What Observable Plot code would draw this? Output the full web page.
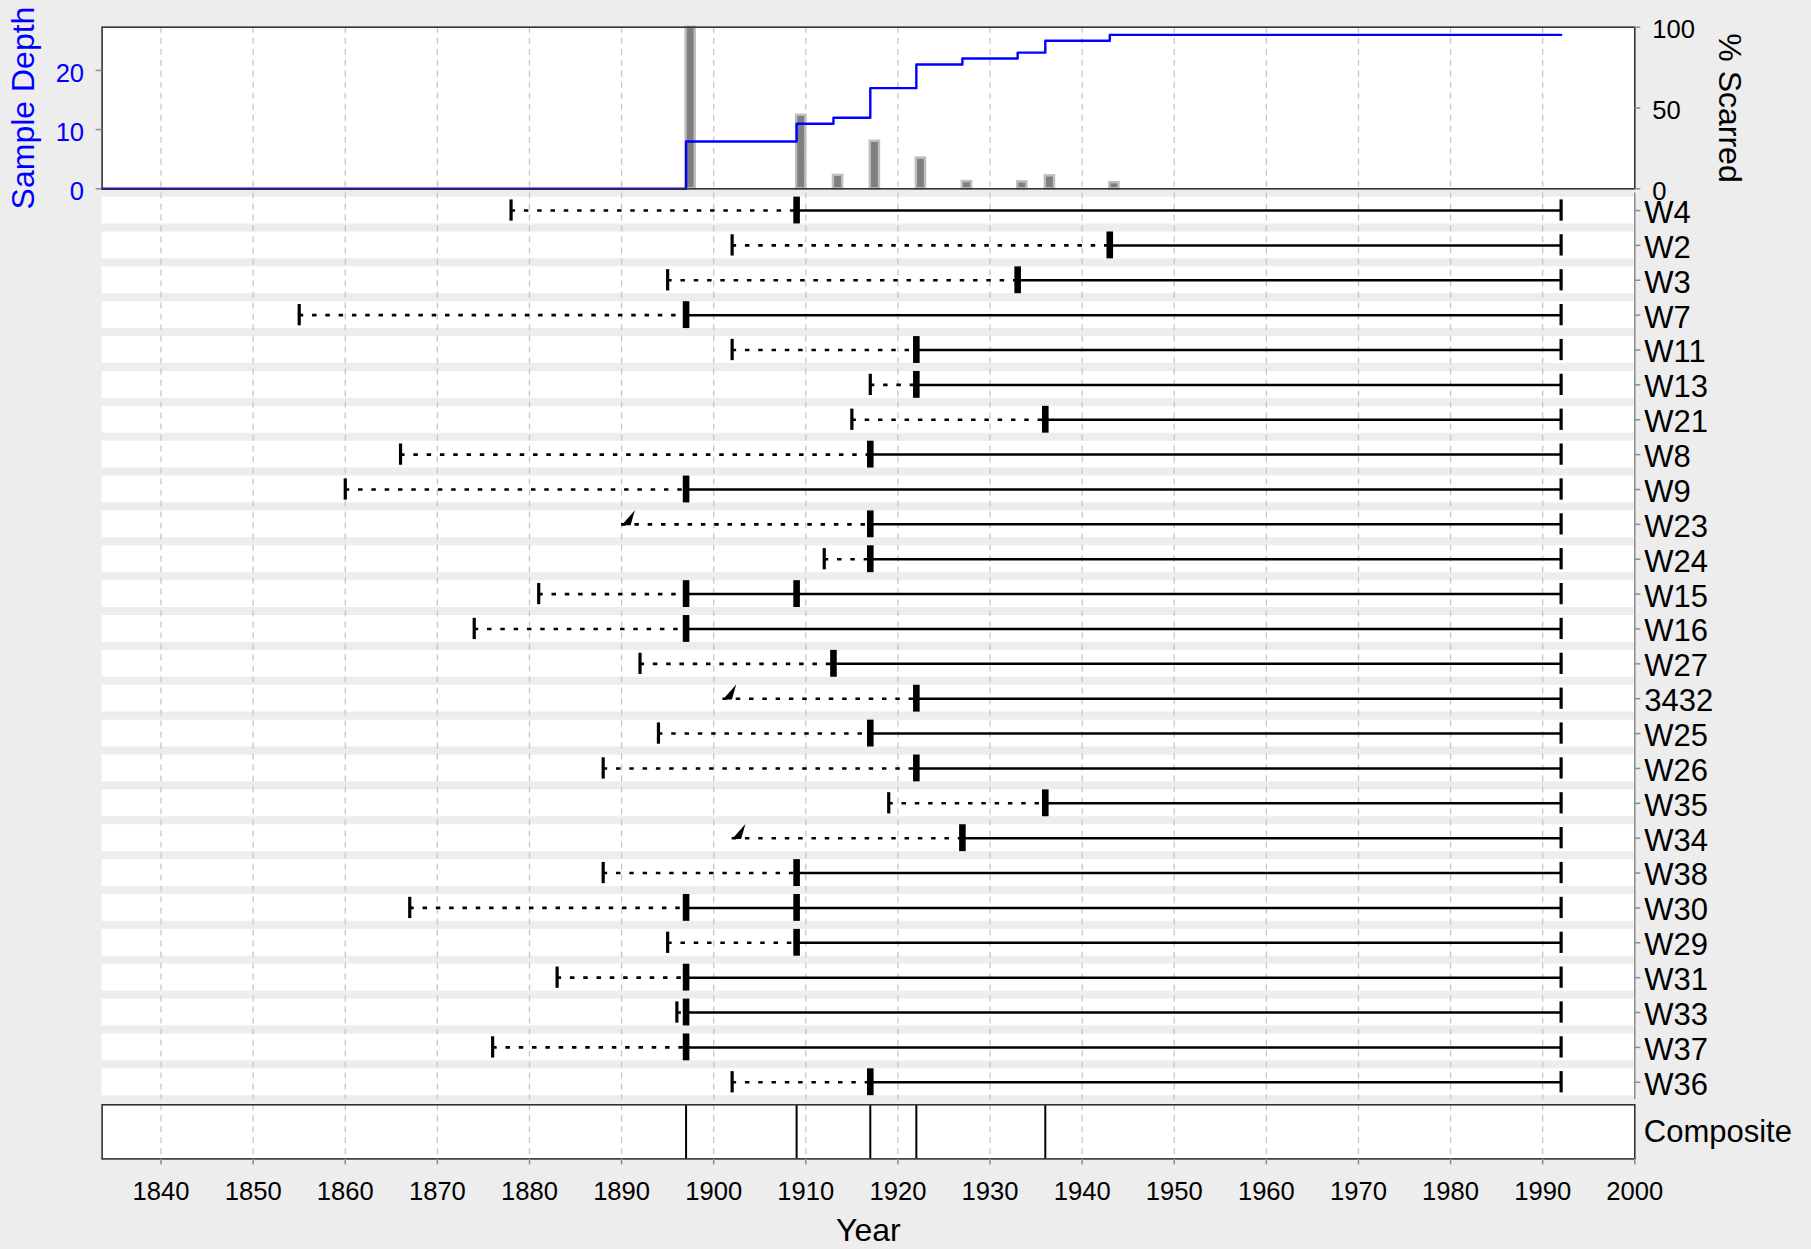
<!DOCTYPE html>
<html>
<head>
<meta charset="utf-8">
<script src="https://cdn.jsdelivr.net/npm/d3@7"></script>
<script src="https://cdn.jsdelivr.net/npm/@observablehq/plot@0.6"></script>
<style>
html, body { margin: 0; padding: 0; background: #ededed; }
#wrap { position: relative; width: 1811px; height: 1249px; overflow: hidden; background: #ededed;
        font-family: "Liberation Sans", Arial, Helvetica, sans-serif; }
</style>
</head>
<body>
<div id="wrap"></div>
<script>
// ---------------- data ----------------
const seriesNames = ["W4","W2","W3","W7","W11","W13","W21","W8","W9","W23","W24","W15","W16","W27","3432","W25","W26","W35","W34","W38","W30","W29","W31","W33","W37","W36"];
const innerYears  = [1878,1902,1895,1855,1902,1917,1915,1866,1860,1890,1912,1881,1874,1892,1901,1894,1888,1919,1902,1888,1867,1895,1883,1896,1876,1902];
const outerYears  = [1992,1992,1992,1992,1992,1992,1992,1992,1992,1992,1992,1992,1992,1992,1992,1992,1992,1992,1992,1992,1992,1992,1992,1992,1992,1992];
const wedgeSeries = ["W23","3432","W34"];
const scarYears   = [[1909],[1943],[1933],[1897],[1922],[1922],[1936],[1917],[1897],[1917],[1917],[1897,1909],[1897],[1913],[1922],[1917],[1922],[1936],[1927],[1909],[1897,1909],[1909],[1897],[1897],[1897],[1917]];

const depthYears  = [1833.6,1897,1909,1913,1917,1922,1927,1933,1936,1943,1992];
const depthValues = [0,8,11,12,17,21,22,23,25,26,26];

const pctYears    = [1897,1909,1913,1917,1922,1927,1933,1936,1943];
const pctValues   = [100,45.5,8.3,29.4,19.0,4.5,4.3,8.0,3.8];

const compositeYears = [1897,1909,1917,1922,1936];

const gridYears  = [1840,1850,1860,1870,1880,1890,1900,1910,1920,1930,1940,1950,1960,1970,1980,1990];
const tickYears  = [1840,1850,1860,1870,1880,1890,1900,1910,1920,1930,1940,1950,1960,1970,1980,1990,2000];
const depthTicks = [0,10,20];
const pctTicks   = [0,50,100];

// ---------------- layout ----------------
const W = 1811;
const xDomain = [1833.6, 2000];
const mL = 101.6, mR = W - 1634.3;
const pxPerYear = (W - mR - mL) / (xDomain[1] - xDomain[0]);
const tickLen = 6 / pxPerYear;
const depthMax = 27.3;
const FONT = "'Liberation Sans', Arial, Helvetica, sans-serif";
const gridStyle = {stroke: "#c6c6c6", strokeWidth: 1.3, strokeDasharray: "6,5"};
const tickGray = "#8c8c8c";

const wrap = document.getElementById("wrap");
function place(svg, top) {
  svg.style.position = "absolute";
  svg.style.left = "0px";
  svg.style.top = top + "px";
  svg.style.background = "transparent";
  svg.style.overflow = "visible";
  svg.style.fontFamily = FONT;
  svg.style.maxWidth = "none";
  wrap.appendChild(svg);
}

// ---------------- top panel ----------------
const depthRows = depthYears.map((y, i) => ({year: y, depth: depthValues[i]}));
const pctRows = pctYears.map((y, i) => ({year: y, pct: pctValues[i]}));
const depthTickRows = depthTicks.map(v => ({v, label: String(v)}));
const pctTickRows = pctTicks.map(v => ({v: v * depthMax / 100, label: String(v)}));

const wedge = {
  draw(ctx) {
    ctx.moveTo(0, 0.8);
    ctx.lineTo(13.3, -14.2);
    ctx.lineTo(9, 0.8);
    ctx.closePath();
  }
};

const topPlot = Plot.plot({
  width: W, height: 200,
  marginLeft: mL, marginRight: mR, marginTop: 26.7, marginBottom: 11.7,
  x: {domain: xDomain, axis: null},
  y: {domain: [0, depthMax], axis: null},
  marks: [
    Plot.frame({fill: "white", stroke: "none"}),
    Plot.ruleX(gridYears, gridStyle),
    Plot.rect(pctRows, {x1: d => d.year, x2: d => d.year + 1, y1: d => 0, y2: d => d.pct * depthMax / 100,
      fill: "#7f7f7f", stroke: "#bdbdbd", strokeWidth: 2.4}),
    Plot.line(depthRows, {x: "year", y: "depth", curve: "step-after", stroke: "#0000ff", strokeWidth: 2.4}),
    Plot.frame({stroke: "#333333", strokeWidth: 1.6}),
    // left axis (sample depth)
    Plot.ruleY(depthTickRows, {y: "v", x1: d => xDomain[0] - tickLen, x2: d => xDomain[0], stroke: tickGray, strokeWidth: 1.5}),
    Plot.text(depthTickRows, {y: "v", x: d => xDomain[0], text: "label", dx: -18, dy: 3, textAnchor: "end",
      fill: "#0000ff", fontSize: 25.6}),
    // right axis (% scarred)
    Plot.ruleY(pctTickRows, {y: "v", x1: d => xDomain[1], x2: d => xDomain[1] + tickLen, stroke: tickGray, strokeWidth: 1.5}),
    Plot.text(pctTickRows, {y: "v", x: d => xDomain[1], text: "label", dx: 17.5, dy: 3, textAnchor: "start",
      fill: "black", fontSize: 25.6}),
    Plot.text(["Sample Depth"], {text: d => d, x: d => xDomain[0], y: d => depthMax / 2, dx: -78.3,
      rotate: -90, fill: "#0000ff", fontSize: 32}),
    Plot.text(["% Scarred"], {text: d => d, x: d => xDomain[1], y: d => depthMax / 2, dx: 94.3,
      rotate: 90, fill: "black", fontSize: 32})
  ]
});
place(topPlot, 0);

// ---------------- series rows ----------------
const rows = seriesNames.map((n, i) => ({
  name: n, i,
  inner: innerYears[i],
  outer: outerYears[i],
  first: d3.min(scarYears[i]),
  wedge: wedgeSeries.includes(n)
}));
const scars = [];
scarYears.forEach((arr, i) => arr.forEach(y => scars.push({i, year: y})));
const half = 0.385, thin = 0.305;

const rowTop = 188;
const rowPlot = Plot.plot({
  width: W, height: 916,
  marginLeft: mL, marginRight: mR, marginTop: 4.6, marginBottom: 4.8,
  x: {domain: xDomain, axis: null},
  y: {domain: [seriesNames.length - 0.5, -0.5], axis: null},
  marks: [
    Plot.rect(rows, {x1: d => xDomain[0], x2: d => xDomain[1], y1: d => d.i - half, y2: d => d.i + half, fill: "white"}),
    Plot.ruleX(gridYears, gridStyle),
    Plot.ruleY(rows, {y: "i", x1: "inner", x2: "first", stroke: "black", strokeWidth: 2.6, strokeDasharray: "4.5,8.8"}),
    Plot.ruleY(rows, {y: "i", x1: "first", x2: "outer", stroke: "black", strokeWidth: 2.5}),
    Plot.ruleX(rows.filter(d => !d.wedge), {x: "inner", y1: d => d.i - thin, y2: d => d.i + thin, stroke: "black", strokeWidth: 3.2}),
    Plot.ruleX(rows, {x: "outer", y1: d => d.i - thin, y2: d => d.i + thin, stroke: "black", strokeWidth: 3.2}),
    Plot.dot(rows.filter(d => d.wedge), {x: "inner", y: "i", symbol: wedge, fill: "black", stroke: "none", r: 4}),
    Plot.ruleX(scars, {x: "year", y1: d => d.i - half, y2: d => d.i + half, stroke: "black", strokeWidth: 6.6}),
    Plot.ruleX([xDomain[1]], {stroke: tickGray, strokeWidth: 1.5}),
    Plot.ruleY(rows, {y: "i", x1: d => xDomain[1], x2: d => xDomain[1] + tickLen, stroke: tickGray, strokeWidth: 1.5}),
    Plot.text(rows, {x: d => xDomain[1], y: "i", text: "name", dx: 9.5, dy: 2.5, textAnchor: "start", fontSize: 31, fill: "black"})
  ]
});
place(rowPlot, rowTop);

// ---------------- composite + x axis ----------------
const compTop = 1100;
const compPlot = Plot.plot({
  width: W, height: 149,
  marginLeft: mL, marginRight: mR, marginTop: 4.3, marginBottom: 149 - 58.4,
  x: {domain: xDomain},
  marks: [
    Plot.frame({fill: "white", stroke: "none"}),
    Plot.ruleX(gridYears, gridStyle),
    Plot.ruleX(compositeYears, {stroke: "black", strokeWidth: 2}),
    Plot.frame({stroke: "#333333", strokeWidth: 1.6}),
    Plot.axisX(tickYears, {anchor: "bottom", tickSize: 6, tickPadding: 17, fontSize: 25.6,
      stroke: tickGray, strokeWidth: 1.5, fill: "black", label: null, tickFormat: d => String(d)}),
    Plot.text(["Composite"], {text: d => d, frameAnchor: "right", dx: 9, textAnchor: "start", fontSize: 31, fill: "black"}),
    Plot.text(["Year"], {text: d => d, frameAnchor: "bottom", dy: 82, fontSize: 32, fill: "black"})
  ]
});
place(compPlot, compTop);
</script>
</body>
</html>
